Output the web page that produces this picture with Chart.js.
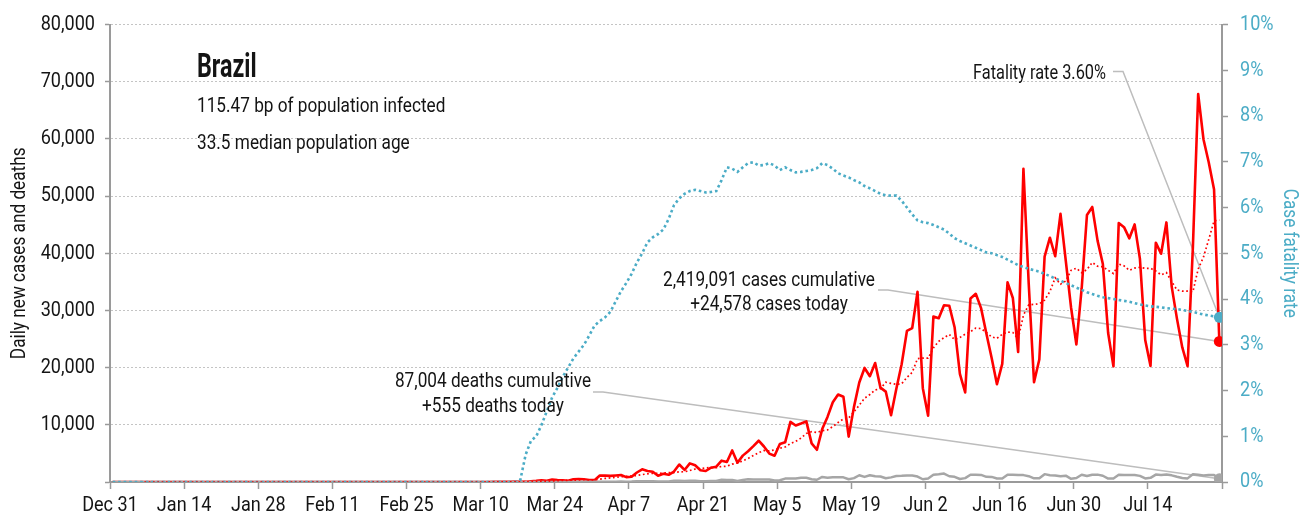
<!DOCTYPE html>
<html>
<head>
<meta charset="utf-8">
<title>Brazil – daily cases, deaths and case fatality rate</title>
<script src="https://cdn.jsdelivr.net/npm/chart.js@4.4.1/dist/chart.umd.min.js"></script>
<style>
  html, body { margin: 0; padding: 0; background: #ffffff; }
  #wrap { width: 1309px; height: 520px; position: relative; }
</style>
</head>
<body>
<div id="wrap"><canvas id="chart" width="1309" height="520"></canvas></div>
<script>
// ---- data (one value per day, starting 31 Dec 2019) ----
const startDate = '2019-12-31';
const tickLabels = ['Dec 31', 'Jan 14', 'Jan 28', 'Feb 11', 'Feb 25', 'Mar 10', 'Mar 24',
  'Apr 7', 'Apr 21', 'May 5', 'May 19', 'Jun 2', 'Jun 16', 'Jun 30', 'Jul 14'];

const dailyCases = [
  0,0,0,0,0,0,0,0,0,0,
  0,0,0,0,0,0,0,0,0,0,
  0,0,0,0,0,0,0,0,0,0,
  0,0,0,0,0,0,0,0,0,0,
  0,0,0,0,0,0,0,0,0,0,
  0,0,0,0,0,0,0,1,0,0,
  1,0,0,0,1,1,5,5,6,6,
  5,9,18,25,21,23,79,34,57,137,
  193,283,224,418,345,310,232,482,502,487,
  352,323,1138,1119,1074,1146,1222,852,926,1661,
  2210,1930,1781,1089,1442,1261,1832,3058,2105,3257,
  2917,2055,1927,2498,2678,3735,3503,5514,3379,4613,
  5385,6276,7218,6209,4970,4588,6633,6935,10503,9888,
  10222,10611,6760,5632,9258,11385,13944,15305,14919,7938,
  13140,17408,19951,18508,20803,16508,15813,11687,16324,20599,
  26417,26928,33274,16409,11598,28936,28633,30925,30830,27075,
  18912,15654,32091,32913,30412,25982,21704,17110,20647,34918,
  32188,22765,54771,34666,17459,21432,39436,42725,39483,46907,
  38693,30476,24052,33846,46712,48105,42223,38133,26051,20229,
  45305,44571,42619,45048,39023,24831,20286,41857,39924,45403,
  34177,28532,23529,20257,41008,67860,59961,55891,51147,24578
];

// 7-day moving average of daily cases
const casesAvg7 = [
  null,null,null,null,null,null,0,0,0,0,
  0,0,0,0,0,0,0,0,0,0,
  0,0,0,0,0,0,0,0,0,0,
  0,0,0,0,0,0,0,0,0,0,
  0,0,0,0,0,0,0,0,0,0,
  0,0,0,0,0,0,0,0.1,0.1,0.1,
  0.3,0.3,0.3,0.3,0.3,0.4,1.1,1.7,2.6,3.4,
  4.1,5.3,7.7,10.6,12.9,15.3,25.7,29.9,36.7,53.7,
  77.7,115,144,192,237,273,286,328,359,397,
  387,384,502,629,714,806,911,982,1068,1143,
  1299,1421,1512,1493,1577,1625,1649,1770,1795,2006,
  2267,2355,2450,2545,2491,2724,2759,3130,3319,3703,
  4115,4629,5127,5513,5436,5608,5897,6118,6722,7104,
  7677,8483,8793,8650,8982,9108,9687,10414,11029,11197,
  12270,13434,14658,15310,16095,16322,17447,17240,17085,17177,
  18307,19182,21577,21663,21650,23452,24599,25243,25801,24915,
  25273,25852,26303,26914,26841,26148,25381,25124,25837,26241,
  26137,25045,29158,31009,31059,31171,31817,33322,35710,34587,
  35162,37022,37396,36597,37167,38399,37730,37650,37017,36471,
  38108,37802,37019,37422,37549,37375,37383,36891,36227,36625,
  35072,33573,33387,33383,33261,37252,39332,42434,45665,45815
];

const dailyDeaths = [
  0,0,0,0,0,0,0,0,0,0,
  0,0,0,0,0,0,0,0,0,0,
  0,0,0,0,0,0,0,0,0,0,
  0,0,0,0,0,0,0,0,0,0,
  0,0,0,0,0,0,0,0,0,0,
  0,0,0,0,0,0,0,0,0,0,
  0,0,0,0,0,0,0,0,0,0,
  0,0,0,0,0,0,0,0,1,3,
  2,5,7,7,9,12,20,15,22,22,
  22,23,42,40,58,60,73,54,67,114,
  133,141,115,68,99,105,204,204,188,217,
  206,115,113,166,165,407,357,346,189,338,
  474,449,435,428,421,275,296,600,615,610,
  751,730,496,396,881,749,844,824,816,485,
  674,1179,888,1188,1001,965,653,807,1039,1086,
  1156,1124,956,480,623,1262,1349,1473,1005,904,
  525,679,1272,1274,1239,909,892,612,627,1282,
  1269,1238,1206,1022,641,654,1374,1185,1141,990,
  1109,552,692,1280,1038,1252,1290,1091,602,620,
  1254,1223,1220,1214,1071,631,733,1300,1233,1322,
  1163,921,716,632,1367,1284,1156,1211,1212,555
];

// cumulative deaths / cumulative cases, in percent
const fatalityRate = [
  0,0,0,0,0,0,0,0,0,0,
  0,0,0,0,0,0,0,0,0,0,
  0,0,0,0,0,0,0,0,0,0,
  0,0,0,0,0,0,0,0,0,0,
  0,0,0,0,0,0,0,0,0,0,
  0,0,0,0,0,0,0,0,0,0,
  0,0,0,0,0,0,0,0,0,0,
  0,0,0,0,0,0,0,0.05,0.6,0.9,
  1.0,1.25,1.55,1.85,2.06,2.3,2.5,2.7,2.85,3.0,
  3.2,3.42,3.52,3.6,3.72,3.95,4.17,4.35,4.55,4.8,
  5.0,5.24,5.35,5.42,5.52,5.75,6.05,6.2,6.3,6.36,
  6.39,6.36,6.33,6.34,6.36,6.6,6.88,6.85,6.78,6.88,
  6.97,6.99,6.92,6.93,6.97,6.92,6.82,6.88,6.82,6.77,
  6.78,6.8,6.82,6.86,6.97,6.93,6.85,6.75,6.7,6.66,
  6.6,6.55,6.47,6.42,6.36,6.3,6.27,6.26,6.26,6.15,
  6.0,5.85,5.72,5.68,5.66,5.62,5.57,5.52,5.43,5.33,
  5.27,5.22,5.17,5.12,5.07,5.02,5.0,4.96,4.92,4.86,
  4.8,4.74,4.7,4.66,4.63,4.6,4.55,4.5,4.45,4.4,
  4.35,4.3,4.25,4.2,4.15,4.11,4.07,4.04,4.02,4.0,
  3.98,3.96,3.94,3.91,3.88,3.86,3.84,3.83,3.82,3.8,
  3.79,3.78,3.76,3.74,3.72,3.69,3.66,3.64,3.62,3.60
];

const country = 'Brazil';
const profileLines = ['115.47 bp of population infected', '33.5 median population age'];
const totalCases = 2419091;
const totalDeaths = 87004;

// ---- styling ----
const FONT = "Roboto, 'Liberation Sans', sans-serif";
const NARROW = 0.86;            // horizontal squeeze giving a condensed face
const INK = '#141414';
const RED = '#ff0000';
const BLUE = '#4bacc6';
const GREY = '#a6a6a6';
const AXIS = '#9a9a9a';

const canvas = document.getElementById('chart');
const ctx2d = canvas.getContext('2d');
// every label on this canvas is set in a condensed width
const plainFillText = ctx2d.fillText.bind(ctx2d);
ctx2d.fillText = function (str, x, y, maxWidth) {
  this.save();
  this.translate(x, y);
  this.scale(NARROW, 1);
  if (maxWidth === undefined) plainFillText(str, 0, 0);
  else plainFillText(str, 0, 0, maxWidth / NARROW);
  this.restore();
};

const n = dailyCases.length;
const dayLabels = dailyCases.map((_, i) => {
  const d = new Date(startDate + 'T00:00:00Z');
  d.setUTCDate(d.getUTCDate() + i);
  return d.toISOString().slice(0, 10);
});
// each day sits in the middle of its own slot on the date axis
const toPoints = arr => arr.map((v, i) => ({ x: i + 0.5, y: v }));
const endDot = r => ctx => (ctx.dataIndex === n - 1 ? r : 0);
const fmt = v => v.toLocaleString('en-US');

const lastCases = dailyCases[n - 1];
const lastDeaths = dailyDeaths[n - 1];
const lastRate = fatalityRate[n - 1];

// leader lines and text boxes around the plot
const annotations = {
  id: 'annotations',
  beforeDatasetsDraw(chart) {
    const { ctx, scales } = chart;
    const xEnd = scales.x.getPixelForValue(n - 0.5);
    const leaders = [
      { x: 1113, y: 71.5, to: scales.y1.getPixelForValue(lastRate) },
      { x: 878, y: 290, to: scales.y.getPixelForValue(lastCases) },
      { x: 593, y: 392, to: scales.y.getPixelForValue(lastDeaths) }
    ];
    ctx.save();
    ctx.strokeStyle = '#bdbdbd';
    ctx.lineWidth = 1.5;
    leaders.forEach(l => {
      ctx.beginPath();
      ctx.moveTo(l.x, l.y);
      ctx.lineTo(l.x + 10, l.y);
      ctx.lineTo(xEnd, l.to);
      ctx.stroke();
    });
    ctx.restore();
  },
  afterDraw(chart) {
    const { ctx } = chart;
    const text = (str, x, y, opts = {}) => {
      ctx.save();
      ctx.font = (opts.weight || 'normal') + ' ' + (opts.size || 20) + 'px ' + FONT;
      ctx.fillStyle = opts.color || INK;
      ctx.textAlign = opts.align || 'left';
      ctx.textBaseline = 'alphabetic';
      ctx.translate(x, y);
      ctx.scale(opts.sx || 1, 1);
      ctx.fillText(str, 0, 0);
      ctx.restore();
    };
    text(country, 197, 77, { size: 33, weight: 'bold', sx: 0.82 });
    text(profileLines[0], 197, 112);
    text(profileLines[1], 197, 148.5);
    text('Fatality rate ' + lastRate.toFixed(2) + '%', 1106, 79, { align: 'right', sx: 0.95 });
    text(fmt(totalCases) + ' cases cumulative', 769, 285.5, { align: 'center' });
    text('+' + fmt(lastCases) + ' cases today', 769, 310, { align: 'center' });
    text(fmt(totalDeaths) + ' deaths cumulative', 493, 387, { align: 'center' });
    text('+' + fmt(lastDeaths) + ' deaths today', 493, 411.5, { align: 'center' });
  }
};

const tickFont = { family: FONT, size: 21 };

new Chart(canvas, {
  type: 'line',
  data: {
    labels: dayLabels,
    datasets: [
      {
        label: '7-day average of new cases',
        data: toPoints(casesAvg7),
        yAxisID: 'y',
        borderColor: RED,
        borderWidth: 1.7,
        borderDash: [1.7, 2.6],
        pointRadius: 0,
        order: 1
      },
      {
        label: 'Case fatality rate',
        data: toPoints(fatalityRate),
        yAxisID: 'y1',
        borderColor: BLUE,
        backgroundColor: BLUE,
        borderWidth: 2.6,
        borderDash: [2.6, 2.9],
        pointRadius: endDot(5.5),
        pointBorderWidth: 0,
        order: 2
      },
      {
        label: 'Daily deaths',
        data: toPoints(dailyDeaths),
        yAxisID: 'y',
        borderColor: GREY,
        backgroundColor: GREY,
        borderWidth: 2.5,
        borderJoinStyle: 'round',
        pointRadius: endDot(5.5),
        pointBorderWidth: 0,
        order: 3
      },
      {
        label: 'Daily new cases',
        data: toPoints(dailyCases),
        yAxisID: 'y',
        borderColor: RED,
        backgroundColor: RED,
        borderWidth: 2.6,
        borderJoinStyle: 'round',
        pointRadius: endDot(5.5),
        pointBorderWidth: 0,
        order: 4
      }
    ]
  },
  options: {
    responsive: false,
    animation: false,
    events: [],
    layout: { padding: { top: 20, left: 0, right: 0, bottom: 0 } },
    plugins: { legend: { display: false }, tooltip: { enabled: false } },
    elements: { line: { tension: 0 } },
    scales: {
      x: {
        type: 'linear',
        min: 0,
        max: n,
        ticks: {
          stepSize: 14,
          autoSkip: false,
          maxRotation: 0,
          font: tickFont,
          color: INK,
          padding: 4,
          callback: v => tickLabels[v / 14] ?? ''
        },
        grid: { drawOnChartArea: false, drawTicks: true, tickLength: 7, tickColor: AXIS, tickWidth: 1.5 },
        border: { color: AXIS, width: 2 },
        afterFit: s => { s.height = 38; }
      },
      y: {
        position: 'left',
        min: 0,
        max: 80000,
        ticks: {
          stepSize: 10000,
          font: tickFont,
          color: INK,
          padding: 10,
          callback: v => (v === 0 ? '' : fmt(v))
        },
        grid: {
          color: c => (c.tick && c.tick.value === 0 ? 'rgba(0,0,0,0)' : '#c4c4c4'),
          lineWidth: 1,
          tickLength: 5,
          tickColor: AXIS,
          tickWidth: 1.5
        },
        border: { color: AXIS, width: 2, dash: [2, 2] },
        title: {
          display: true,
          text: 'Daily new cases and deaths',
          font: { family: FONT, size: 20 },
          color: INK,
          padding: { top: 8, bottom: 0 }
        },
        afterFit: s => { s.width = 110; }
      },
      y1: {
        position: 'right',
        min: 0,
        max: 10,
        ticks: {
          stepSize: 1,
          font: tickFont,
          color: BLUE,
          padding: 12,
          callback: v => v + '%'
        },
        grid: { drawOnChartArea: false, tickLength: 6, tickColor: AXIS, tickWidth: 1.5 },
        border: { color: AXIS, width: 2 },
        title: {
          display: true,
          text: 'Case fatality rate',
          font: { family: FONT, size: 20 },
          color: BLUE,
          padding: { top: 8, bottom: 0 }
        },
        afterFit: s => { s.width = 87; }
      }
    }
  },
  plugins: [annotations]
});
</script>
</body>
</html>
